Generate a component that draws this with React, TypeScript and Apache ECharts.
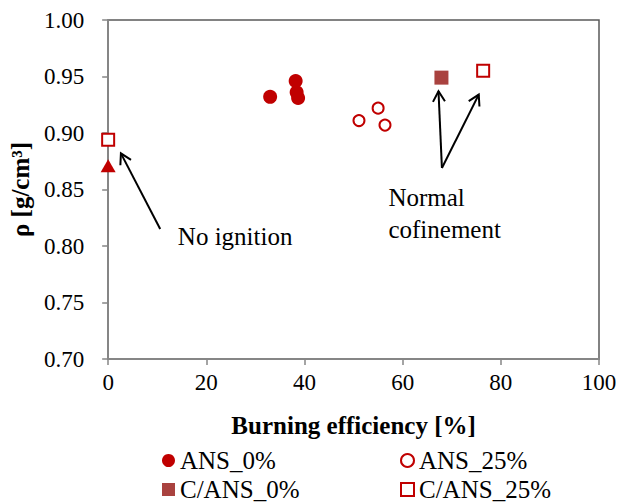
import React, { useEffect, useRef } from "react";
import * as echarts from "echarts";

const ans0: number[][] = [
  [33.0, 0.932],
  [38.2, 0.946],
  [38.4, 0.936],
  [38.7, 0.931],
];
const ans25: number[][] = [
  [51.1, 0.911],
  [55.0, 0.922],
  [56.4, 0.907],
];
const cans0: number[][] = [[67.9, 0.949]];
const cans25: number[][] = [
  [0, 0.894],
  [76.4, 0.955],
];
const noIgnition: number[][] = [[0, 0.871]];

// annotation arrows: [tailX, tailY, headX, headY]
const arrows: number[][] = [
  [10.6, 0.815, 2.6, 0.882],
  [68.0, 0.869, 67.3, 0.937],
  [68.0, 0.869, 75.5, 0.934],
];
const notes: { x: number; y: number; text: string }[] = [
  { x: 14.2, y: 0.808, text: "No ignition" },
  { x: 57.1, y: 0.8425, text: "Normal" },
  { x: 57.1, y: 0.815, text: "cofinement" },
];

const xTicks = { min: 0, max: 100, interval: 20 };
const yTicks = { min: 0.7, max: 1.0, interval: 0.05 };

const RED = "#C00000";
const BROWN = "#A9423F";
const FONT = "Liberation Serif";

export default function App() {
  const ref = useRef<HTMLDivElement>(null);
  useEffect(() => {
    if (!ref.current) return;
    const chart = echarts.init(ref.current, null, { renderer: "svg" });
    const legendBase = {
      orient: "horizontal",
      padding: 0,
      itemWidth: 13,
      itemHeight: 13,
      itemGap: 5,
      textStyle: { fontFamily: FONT, fontSize: 25, color: "#000" },
    };
    chart.setOption({
      animation: false,
      textStyle: { fontFamily: FONT },
      grid: {
        left: 107,
        top: 20,
        right: 22,
        bottom: 145,
        show: true,
        borderColor: "#595959",
        borderWidth: 1.5,
      },
      xAxis: {
        type: "value",
        min: xTicks.min,
        max: xTicks.max,
        interval: xTicks.interval,
        name: "Burning efficiency [%]",
        nameLocation: "middle",
        nameGap: 54,
        nameTextStyle: { fontFamily: FONT, fontSize: 25, fontWeight: "bold", color: "#000" },
        axisLine: { show: true, onZero: false, lineStyle: { color: "#868686", width: 2 } },
        axisTick: { show: true, inside: false, length: 6, lineStyle: { color: "#868686", width: 1.5 } },
        axisLabel: { fontFamily: FONT, fontSize: 23, color: "#000", margin: 12 },
        splitLine: { show: false },
      },
      yAxis: {
        type: "value",
        min: yTicks.min,
        max: yTicks.max,
        interval: yTicks.interval,
        name: "ρ [g/cm³]",
        nameLocation: "middle",
        nameGap: 75,
        nameTextStyle: { fontFamily: FONT, fontSize: 25, fontWeight: "bold", color: "#000" },
        axisLine: { show: true, onZero: false, lineStyle: { color: "#868686", width: 2 } },
        axisTick: { show: true, inside: false, length: 6, lineStyle: { color: "#868686", width: 1.5 } },
        axisLabel: {
          fontFamily: FONT,
          fontSize: 23,
          color: "#000",
          margin: 24,
          formatter: (v: number) => v.toFixed(2),
        },
        splitLine: { show: false },
      },
      legend: [
        { ...legendBase, left: 162, top: 448, data: ["ANS_0%"] },
        { ...legendBase, left: 400, top: 448, data: ["ANS_25%"] },
        { ...legendBase, left: 162, top: 477, data: ["C/ANS_0%"] },
        { ...legendBase, left: 400, top: 477, data: ["C/ANS_25%"] },
      ],
      series: [
        {
          name: "ANS_0%",
          type: "scatter",
          symbol: "circle",
          symbolSize: 14,
          itemStyle: { color: RED, opacity: 1 },
          data: ans0,
          z: 3,
        },
        {
          name: "ANS_25%",
          type: "scatter",
          symbol: "circle",
          symbolSize: 11,
          itemStyle: { color: "#fff", borderColor: RED, borderWidth: 2, opacity: 1 },
          data: ans25,
          z: 3,
        },
        {
          name: "C/ANS_0%",
          type: "scatter",
          symbol: "rect",
          symbolSize: 14,
          itemStyle: { color: BROWN, opacity: 1 },
          data: cans0,
          z: 3,
        },
        {
          name: "C/ANS_25%",
          type: "scatter",
          symbol: "rect",
          symbolSize: 12,
          itemStyle: { color: "#fff", borderColor: RED, borderWidth: 2, opacity: 1 },
          data: cans25,
          z: 3,
        },
        {
          name: "No ignition point",
          type: "scatter",
          symbol: "triangle",
          symbolSize: [15, 13],
          itemStyle: { color: RED, opacity: 1 },
          data: noIgnition,
          z: 3,
        },
        {
          name: "arrows",
          type: "custom",
          data: arrows,
          encode: { x: [0, 2], y: [1, 3] },
          z: 4,
          silent: true,
          renderItem: (params: any, api: any) => {
            const p1 = api.coord([api.value(0), api.value(1)]);
            const p2 = api.coord([api.value(2), api.value(3)]);
            const ang = Math.atan2(p2[1] - p1[1], p2[0] - p1[0]);
            const L = 12;
            const a = Math.PI / 6;
            const h1 = [p2[0] - L * Math.cos(ang - a), p2[1] - L * Math.sin(ang - a)];
            const h2 = [p2[0] - L * Math.cos(ang + a), p2[1] - L * Math.sin(ang + a)];
            const style = { stroke: "#000", lineWidth: 2, fill: null };
            return {
              type: "group",
              children: [
                { type: "line", shape: { x1: p1[0], y1: p1[1], x2: p2[0], y2: p2[1] }, style },
                { type: "polyline", shape: { points: [h1, p2, h2] }, style },
              ],
            };
          },
        },
        {
          name: "notes",
          type: "custom",
          data: notes.map((n) => [n.x, n.y]),
          z: 4,
          silent: true,
          renderItem: (params: any, api: any) => {
            const p = api.coord([api.value(0), api.value(1)]);
            return {
              type: "text",
              x: p[0],
              y: p[1],
              style: {
                text: notes[params.dataIndex].text,
                font: `25px ${FONT}`,
                fill: "#000",
                verticalAlign: "middle",
                align: "left",
              },
            };
          },
        },
      ],
    });
    return () => chart.dispose();
  }, []);
  return (
    <div
      ref={ref}
      style={{ position: "absolute", left: 0, top: 0, width: 621, height: 504 }}
    />
  );
}
